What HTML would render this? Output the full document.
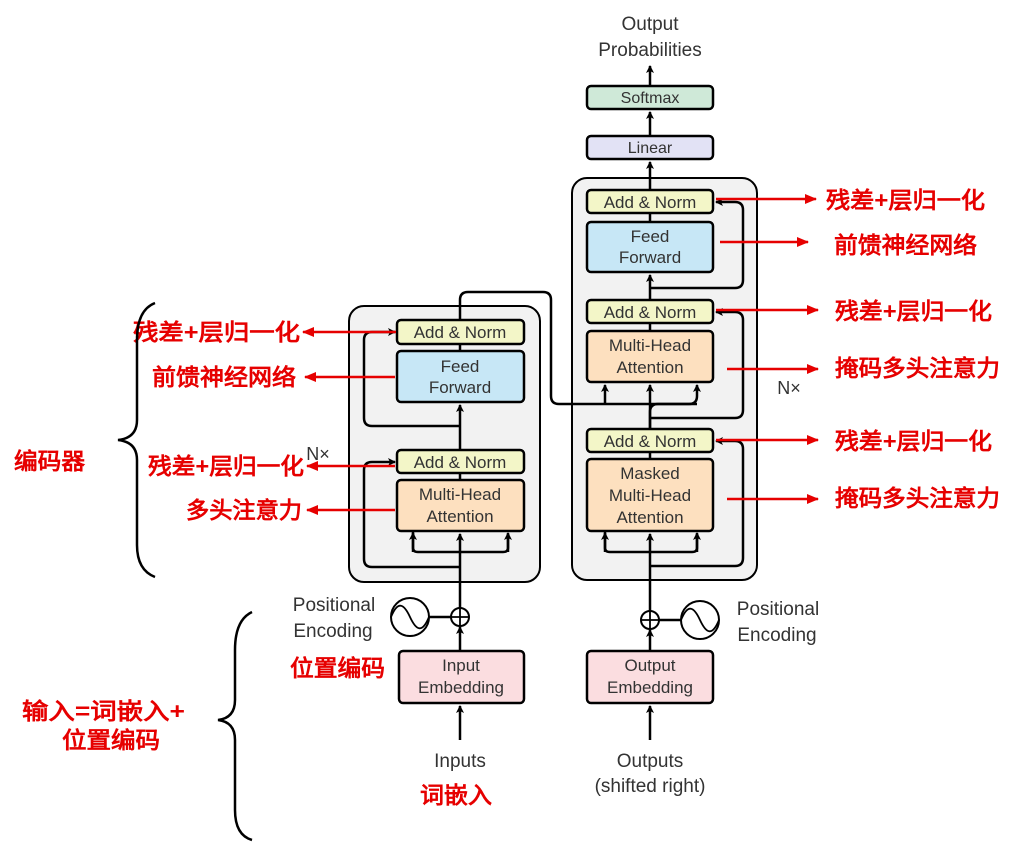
<!DOCTYPE html>
<html><head><meta charset="utf-8"><style>
html,body{margin:0;padding:0;background:#fff;width:1016px;height:842px;overflow:hidden}
svg text{font-family:"Liberation Sans","DejaVu Sans",sans-serif;}
.g{fill:#333;font-size:17px;text-anchor:middle}
.r{fill:#e60000;font-family:"Noto Serif CJK SC","Noto Sans CJK SC",serif !important;font-weight:900;font-size:23px}
</style></head><body>
<svg width="1016" height="842" viewBox="0 0 1016 842" xmlns="http://www.w3.org/2000/svg">
<defs>
<marker id="a" markerWidth="8" markerHeight="8" refX="7" refY="4" orient="auto" markerUnits="userSpaceOnUse"><path d="M0,0 L8,4 L0,8 L2,4 z" fill="#000"/></marker>
<marker id="ra" markerWidth="12" markerHeight="10" refX="11" refY="5" orient="auto" markerUnits="userSpaceOnUse"><path d="M0,0 L12,5 L0,10 z" fill="#e60000"/></marker>
</defs>
<rect x="349" y="306" width="191" height="276" rx="15" fill="#f2f2f2" stroke="#000" stroke-width="2"/>
<rect x="572" y="178" width="185" height="402" rx="15" fill="#f2f2f2" stroke="#000" stroke-width="2"/>
<g stroke="#000" stroke-width="2.5" fill="none">
<line x1="460" y1="740" x2="460" y2="706" marker-end="url(#a)"/>
<line x1="460" y1="651" x2="460" y2="627" marker-end="url(#a)"/>
<line x1="460" y1="608" x2="460" y2="534" marker-end="url(#a)"/>
<line x1="460" y1="480" x2="460" y2="473"/>
<line x1="460" y1="450" x2="460" y2="405" marker-end="url(#a)"/>
<line x1="460" y1="351" x2="460" y2="344"/>
<path d="M460,320 V300 Q460,292 468,292 H543 Q551,292 551,300 V396 Q551,404 559,404 H697"/>
<path d="M413,531 V548 Q413,552 418,552 H503 Q508,552 508,548 V534" />
<line x1="413" y1="552" x2="413" y2="533" marker-end="url(#a)"/>
<line x1="508" y1="552" x2="508" y2="533" marker-end="url(#a)"/>
<path d="M460,567 H372 Q364,567 364,559 V470 Q364,462 372,462 H395" marker-end="url(#a)"/>
<path d="M460,426 H372 Q364,426 364,418 V340 Q364,332 372,332 H395" marker-end="url(#a)"/>
<line x1="429" y1="617" x2="451" y2="617"/>
<line x1="650" y1="740" x2="650" y2="706" marker-end="url(#a)"/>
<line x1="650" y1="651" x2="650" y2="630" marker-end="url(#a)"/>
<line x1="650" y1="611" x2="650" y2="534" marker-end="url(#a)"/>
<line x1="650" y1="459" x2="650" y2="452"/>
<path d="M650,429 V412 Q650,404 658,404 H689 Q697,404 697,396 V385" marker-end="url(#a)"/>
<line x1="650" y1="429" x2="650" y2="385" marker-end="url(#a)"/>
<line x1="605" y1="404" x2="605" y2="385" marker-end="url(#a)"/>
<line x1="650" y1="331" x2="650" y2="323"/>
<line x1="650" y1="300" x2="650" y2="275" marker-end="url(#a)"/>
<line x1="650" y1="222" x2="650" y2="213"/>
<line x1="650" y1="190" x2="650" y2="162" marker-end="url(#a)"/>
<line x1="650" y1="136" x2="650" y2="112" marker-end="url(#a)"/>
<line x1="650" y1="86" x2="650" y2="66" marker-end="url(#a)"/>
<path d="M605,531 V548 Q605,552 610,552 H692 Q697,552 697,548 V534"/>
<line x1="605" y1="552" x2="605" y2="533" marker-end="url(#a)"/>
<line x1="697" y1="552" x2="697" y2="533" marker-end="url(#a)"/>
<path d="M650,566 H735 Q743,566 743,558 V449 Q743,441 735,441 H716" marker-end="url(#a)"/>
<path d="M650,418 H735 Q743,418 743,410 V320 Q743,312 735,312 H716" marker-end="url(#a)"/>
<path d="M650,288 H735 Q743,288 743,280 V210 Q743,202 735,202 H716" marker-end="url(#a)"/>
<line x1="659" y1="620" x2="681" y2="620"/>
</g>
<g stroke="#000" stroke-width="2.5">
<rect x="397" y="320" width="127" height="24" rx="4" fill="#f3f6c8"/>
<rect x="397" y="351" width="127" height="51" rx="4" fill="#c7e7f6"/>
<rect x="397" y="450" width="127" height="23" rx="4" fill="#f3f6c8"/>
<rect x="397" y="480" width="127" height="51" rx="4" fill="#fde0bf"/>
<rect x="587" y="190" width="126" height="23" rx="4" fill="#f3f6c8"/>
<rect x="587" y="222" width="126" height="50" rx="4" fill="#c7e7f6"/>
<rect x="587" y="300" width="126" height="23" rx="4" fill="#f3f6c8"/>
<rect x="587" y="331" width="126" height="51" rx="4" fill="#fde0bf"/>
<rect x="587" y="429" width="126" height="23" rx="4" fill="#f3f6c8"/>
<rect x="587" y="459" width="126" height="72" rx="4" fill="#fde0bf"/>
<rect x="587" y="136" width="126" height="23" rx="4" fill="#e2e2f5"/>
<rect x="587" y="86" width="126" height="23" rx="4" fill="#cfe9d8"/>
<rect x="399" y="651" width="125" height="52" rx="4" fill="#fbdde0"/>
<rect x="587" y="651" width="126" height="52" rx="4" fill="#fbdde0"/>
</g>
<g stroke="#000" stroke-width="2" fill="#fff">
<circle cx="460" cy="617" r="9"/><circle cx="650" cy="620" r="9"/>
<circle cx="410" cy="617" r="19"/><circle cx="700" cy="620" r="19"/>
</g>
<g stroke="#000" stroke-width="1.8" fill="none">
<path d="M451,617 H469 M460,608 V626 M641,620 H659 M650,611 V629"/>
<path d="M391,617 C398,600 404,604 410,617 C416,630 422,634 429,617"/>
<path d="M681,620 C688,603 694,607 700,620 C706,633 712,637 719,620"/>
</g>
<g class="g">
<text x="460" y="338">Add &amp; Norm</text>
<text x="460" y="372">Feed</text><text x="460" y="393">Forward</text>
<text x="460" y="468">Add &amp; Norm</text>
<text x="460" y="500">Multi-Head</text><text x="460" y="522">Attention</text>
<text x="650" y="208">Add &amp; Norm</text>
<text x="650" y="242">Feed</text><text x="650" y="263">Forward</text>
<text x="650" y="318">Add &amp; Norm</text>
<text x="650" y="351">Multi-Head</text><text x="650" y="373">Attention</text>
<text x="650" y="447">Add &amp; Norm</text>
<text x="650" y="479">Masked</text><text x="650" y="501">Multi-Head</text><text x="650" y="523">Attention</text>
<text x="650" y="153" font-size="16">Linear</text>
<text x="650" y="103" font-size="16">Softmax</text>
<text x="461" y="671">Input</text><text x="461" y="693">Embedding</text>
<text x="650" y="671">Output</text><text x="650" y="693">Embedding</text>
<text x="650" y="30" font-size="19">Output</text><text x="650" y="56" font-size="19">Probabilities</text>
<text x="460" y="767" font-size="19">Inputs</text>
<text x="650" y="767" font-size="19">Outputs</text><text x="650" y="792" font-size="19">(shifted right)</text>
<text x="334" y="611" font-size="19">Positional</text><text x="333" y="637" font-size="19">Encoding</text>
<text x="778" y="615" font-size="19">Positional</text><text x="777" y="641" font-size="19">Encoding</text>
<text x="318" y="460" font-size="18">N×</text>
<text x="789" y="394" font-size="18">N×</text>
</g>
<g stroke="#e60000" stroke-width="2.5" marker-end="url(#ra)">
<line x1="396" y1="332" x2="303" y2="332"/>
<line x1="395" y1="377" x2="305" y2="377"/>
<line x1="395" y1="466" x2="307" y2="466"/>
<line x1="395" y1="510" x2="307" y2="510"/>
<line x1="716" y1="199" x2="816" y2="199"/>
<line x1="720" y1="242" x2="808" y2="242"/>
<line x1="716" y1="310" x2="818" y2="310"/>
<line x1="727" y1="369" x2="818" y2="369"/>
<line x1="716" y1="440" x2="818" y2="440"/>
<line x1="727" y1="499" x2="818" y2="499"/>
</g>
<g class="r">
<text x="133" y="340" textLength="167" lengthAdjust="spacingAndGlyphs">残差+层归一化</text>
<text x="152" y="385" textLength="144" lengthAdjust="spacingAndGlyphs">前馈神经网络</text>
<text x="148" y="474" textLength="156" lengthAdjust="spacingAndGlyphs">残差+层归一化</text>
<text x="186" y="518" textLength="116" lengthAdjust="spacingAndGlyphs">多头注意力</text>
<text x="14" y="469" textLength="71" lengthAdjust="spacingAndGlyphs">编码器</text>
<text x="22" y="719" textLength="163" lengthAdjust="spacingAndGlyphs">输入=词嵌入+</text>
<text x="62" y="748" textLength="98" lengthAdjust="spacingAndGlyphs">位置编码</text>
<text x="290" y="676" textLength="95" lengthAdjust="spacingAndGlyphs">位置编码</text>
<text x="420" y="803" textLength="72" lengthAdjust="spacingAndGlyphs">词嵌入</text>
<text x="826" y="208" textLength="159" lengthAdjust="spacingAndGlyphs">残差+层归一化</text>
<text x="834" y="253" textLength="143" lengthAdjust="spacingAndGlyphs">前馈神经网络</text>
<text x="835" y="319" textLength="157" lengthAdjust="spacingAndGlyphs">残差+层归一化</text>
<text x="835" y="376" textLength="165" lengthAdjust="spacingAndGlyphs">掩码多头注意力</text>
<text x="835" y="449" textLength="157" lengthAdjust="spacingAndGlyphs">残差+层归一化</text>
<text x="835" y="506" textLength="165" lengthAdjust="spacingAndGlyphs">掩码多头注意力</text>
</g>
<g stroke="#000" stroke-width="2.5" fill="none">
<path d="M155,303 Q137,310 137,340 V420 Q137,438 118,440 Q137,442 137,460 V545 Q137,570 155,577"/>
<path d="M252,612 Q235,620 235,650 V700 Q235,718 218,720 Q235,722 235,740 V810 Q235,835 252,840"/>
</g>
</svg>
</body></html>
